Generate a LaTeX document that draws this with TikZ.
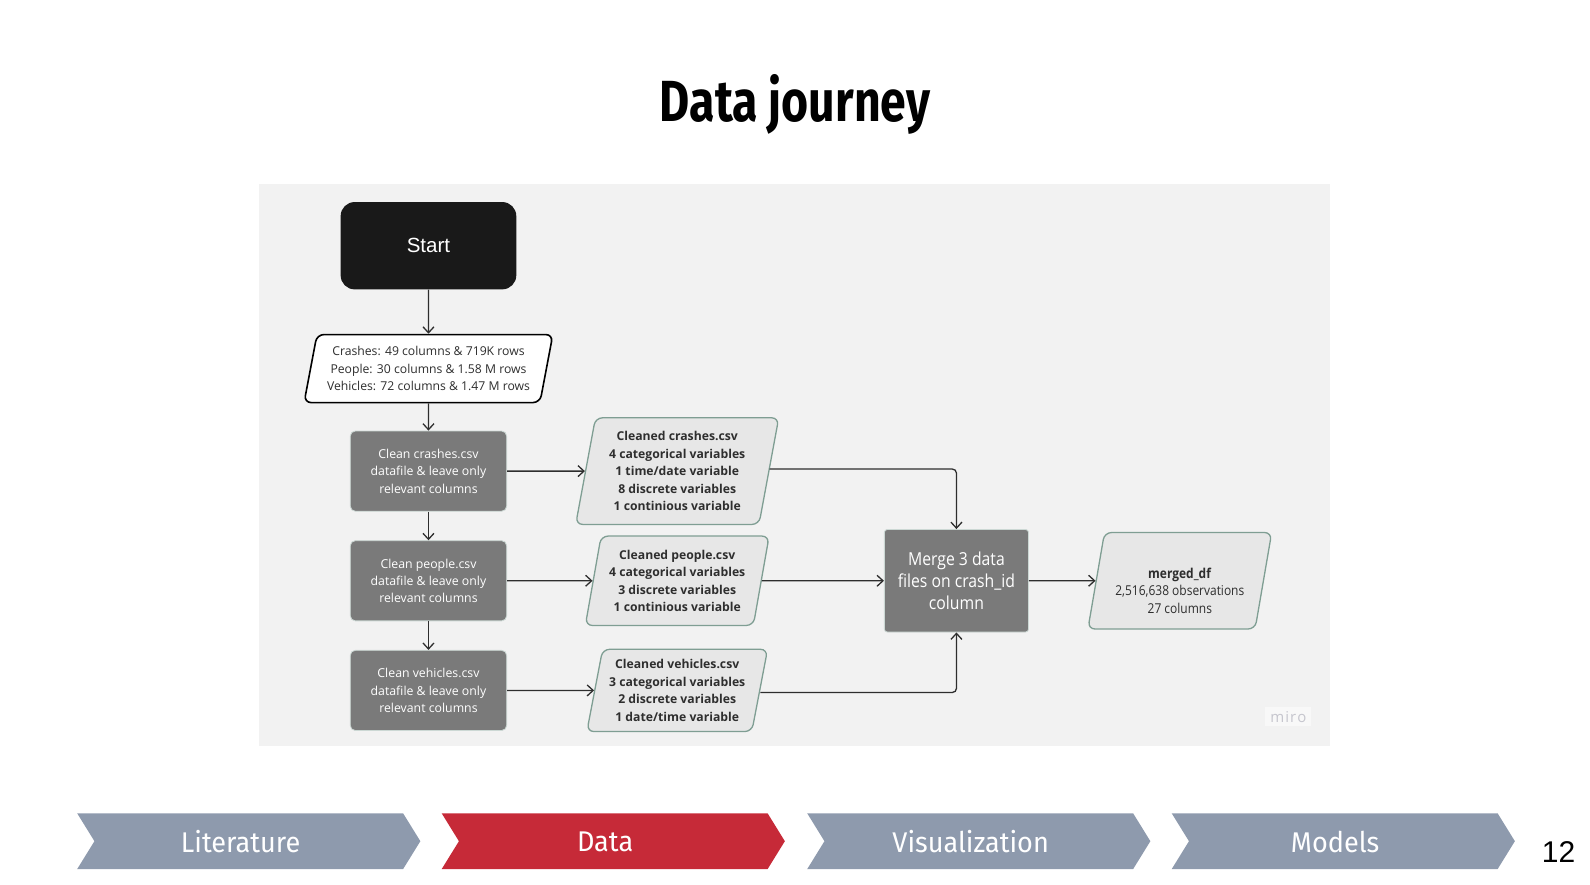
\documentclass[tikz,border=0pt]{standalone}
\usepackage{fontspec}
\setmainfont{Open Sans}
\newfontfamily\titlefont[FakeStretch=0.8]{Fira Sans}
\newfontfamily\barfont[FakeStretch=0.95]{Fira Sans}
\newfontfamily\narrowfont[FakeStretch=0.88]{Open Sans}
\newfontfamily\startfont{Liberation Sans}
\usetikzlibrary{shapes.geometric,arrows.meta}
\definecolor{panel}{HTML}{F2F2F2}
\definecolor{boxgray}{HTML}{7A7A7A}
\definecolor{cleanfill}{HTML}{E7E7E7}
\definecolor{cleanline}{HTML}{7F9E93}
\definecolor{inktext}{HTML}{2E2E2E}
\definecolor{barblue}{HTML}{8E9AAD}
\definecolor{barred}{HTML}{C62A38}
\definecolor{mirotext}{HTML}{C6C6CE}
\newlength\px
\setlength\px{1.0153pt}
\tikzset{
  flow/.style={draw=inktext, line width=1.3pt, -{Straight Barb[length=6pt,width=11pt]}},
  stepbox/.style={rectangle, rounded corners=5pt, fill=boxgray, draw=cleanline!40, line width=0.8pt,
    text=white, align=center, font=\fontsize{12.3}{17.3}\selectfont},
  dataset/.style={trapezium, trapezium left angle=77, trapezium right angle=103,
    trapezium stretches body, rounded corners=7pt, fill=cleanfill, draw=cleanline,
    line width=1.3pt, text=inktext, align=center, inner xsep=0pt,
    font=\bfseries\fontsize{12.2}{17.4}\selectfont},
}
\begin{document}
\begin{tikzpicture}[x=1\px, y=-1\px]
  \useasboundingbox (0,0) rectangle (1566,870.7);
  \fill[panel] (255,181) rectangle (1310,735);

  \node (title) at (783,103) {\titlefont\bfseries\fontsize{58}{60}\selectfont Data journey};

  \node[rectangle, rounded corners=14pt, fill=black!90, text=white, minimum width=173\px,
    minimum height=86\px, font=\startfont\fontsize{20.5}{24}\selectfont] (start) at (422,242) {Start};
  \node[trapezium, trapezium left angle=76, trapezium right angle=104, trapezium stretches body,
    rounded corners=7pt, fill=white, draw=black, line width=1.6pt, align=center,
    minimum width=245\px, minimum height=67\px, inner xsep=0pt, text=inktext,
    font=\fontsize{12.2}{17.8}\selectfont] (raw) at (422,363)
    {Crashes: 49 columns \& 719K rows\\People: 30 columns \& 1.58 M rows\\Vehicles: 72 columns \& 1.47 M rows};

  \node[stepbox, minimum width=154\px, minimum height=79\px] (cleancrash) at (422,464)
    {Clean crashes.csv\\datafile \& leave only\\relevant columns};
  \node[stepbox, minimum width=154\px, minimum height=79\px] (cleanpeople) at (422,572)
    {Clean people.csv\\datafile \& leave only\\relevant columns};
  \node[stepbox, minimum width=154\px, minimum height=79\px] (cleanveh) at (422,680)
    {Clean vehicles.csv\\datafile \& leave only\\relevant columns};

  \node[dataset, minimum width=200\px, minimum height=105\px] (outcrash) at (667,464)
    {Cleaned crashes.csv\\4 categorical variables\\1 time/date variable\\8 discrete variables\\1 continious variable};
  \node[dataset, minimum width=181\px, minimum height=88\px] (outpeople) at (667,572)
    {Cleaned people.csv\\4 categorical variables\\3 discrete variables\\1 continious variable};
  \node[dataset, minimum width=178\px, minimum height=81\px] (outveh) at (667,680)
    {Cleaned vehicles.csv\\3 categorical variables\\2 discrete variables\\1 date/time variable};

  \node[stepbox, rounded corners=3pt, minimum width=142\px, minimum height=101\px,
    font=\narrowfont\fontsize{17.9}{21.8}\selectfont] (merge) at (942,572)
    {Merge 3 data\\files on crash\_id\\column};
  \node[dataset, minimum width=181\px, minimum height=95\px,
    font=\narrowfont\fontsize{13.6}{17.5}\selectfont] (merged) at (1162,572)
    {\rule{0pt}{30pt}\textbf{merged\_df}\\2,516,638 observations\\27 columns};

  \node[fill=white!50!panel, text=mirotext, inner xsep=5pt, inner ysep=4pt,
    font=\fontsize{15}{17}\selectfont] (miro) at (1269,706) {m\kern1pt i\kern1pt r\kern1pt o};

  \draw[flow] (start) -- (raw);
  \draw[flow] (raw) -- (cleancrash);
  \draw[flow] (cleancrash) -- (cleanpeople);
  \draw[flow] (cleanpeople) -- (cleanveh);
  \draw[flow] (cleancrash) -- (outcrash);
  \draw[flow] (cleanpeople) -- (outpeople);
  \draw[flow] (cleanveh) -- (outveh);
  \draw[flow, rounded corners=4pt] ([yshift=2\px]outcrash.east) -| (merge.north);
  \draw[flow] (outpeople) -- (merge);
  \draw[flow, rounded corners=4pt] ([yshift=-2\px]outveh.east) -| (merge.south);
  \draw[flow] (merge) -- (merged);

  % progress bar
  \foreach \x/\name/\col [count=\i] in {76/Literature/barblue, 435/Data/barred,
      795/Visualization/barblue, 1154/Models/barblue} {
    \fill[\col] (\x,801) -- ++(321,0) -- ++(17,27.5) -- ++(-17,27.5) -- ++(-321,0) -- ++(17,-27.5) -- cycle;
    \node[text=white, font=\barfont\fontsize{28.5}{30}\selectfont] (bar\i) at (\x+161,829) {\name};
  }
  \node[font=\startfont\fontsize{30}{32}\selectfont] (page) at (1535,839) {12};
\end{tikzpicture}
\end{document}
